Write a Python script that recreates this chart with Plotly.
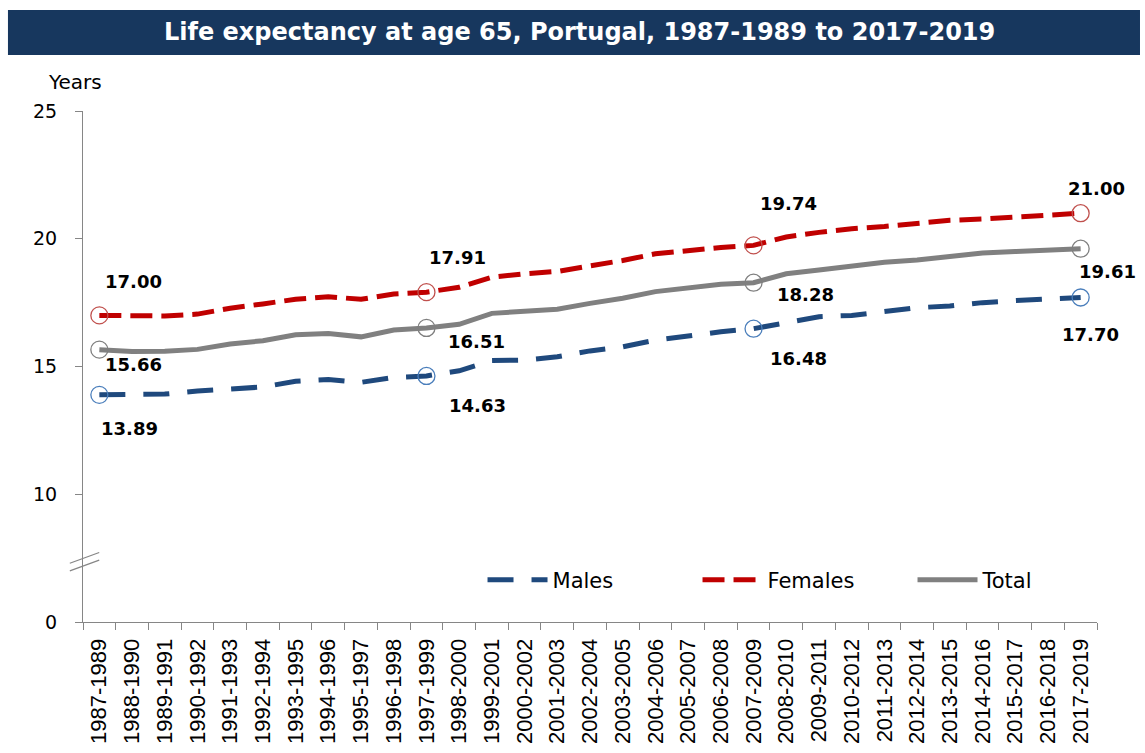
import plotly.graph_objects as go

periods = ["1987-1989","1988-1990","1989-1991","1990-1992","1991-1993","1992-1994","1993-1995",
           "1994-1996","1995-1997","1996-1998","1997-1999","1998-2000","1999-2001","2000-2002",
           "2001-2003","2002-2004","2003-2005","2004-2006","2005-2007","2006-2008","2007-2009",
           "2008-2010","2009-2011","2010-2012","2011-2013","2012-2014","2013-2015","2014-2016",
           "2015-2017","2016-2018","2017-2019"]

males = [13.89, 13.90, 13.92, 14.04, 14.12, 14.20, 14.42, 14.49, 14.38, 14.57, 14.63,
         14.83, 15.23, 15.25, 15.38, 15.61, 15.77, 16.03, 16.19, 16.36, 16.48,
         16.71, 16.95, 17.00, 17.17, 17.30, 17.37, 17.50, 17.58, 17.64, 17.70]
females = [17.00, 16.98, 16.98, 17.05, 17.28, 17.45, 17.63, 17.73, 17.63, 17.84, 17.91,
           18.10, 18.49, 18.63, 18.72, 18.94, 19.15, 19.41, 19.54, 19.66, 19.74,
           20.07, 20.25, 20.39, 20.48, 20.62, 20.72, 20.77, 20.84, 20.92, 21.00]
total = [15.66, 15.59, 15.60, 15.67, 15.88, 16.01, 16.24, 16.29, 16.16, 16.43, 16.51,
         16.65, 17.08, 17.15, 17.24, 17.47, 17.67, 17.93, 18.06, 18.22, 18.28,
         18.63, 18.78, 18.94, 19.08, 19.17, 19.30, 19.44, 19.50, 19.55, 19.61]

highlight_idx = [0, 10, 20, 30]

# y axis: displayed "0" sits at a broken-axis position
y_tickvals = [5, 10, 15, 20, 25]
y_ticktext = ["0", "10", "15", "20", "25"]

title_text = "Life expectancy at age 65, Portugal, 1987-1989 to 2017-2019"

series = [
    dict(name="Males", y=males, color="#1F497D", dash="26px,18px", mcolor="#4A7EBB",
         offsets=[(30, -34), (51, -30), (45, -30), (10, -37)]),
    dict(name="Females", y=females, color="#C00000", dash="22px,9px", mcolor="#C0504D",
         offsets=[(34, 34), (31, 35), (35, 42), (16, 25)]),
    dict(name="Total", y=total, color="#808080", dash="solid", mcolor="#7F7F7F",
         offsets=[(34, -15), (50, -14), (52, -12), (27, -23)]),
]

fig = go.Figure()
for s in series:
    fig.add_trace(go.Scatter(x=periods, y=s["y"], mode="lines", name=s["name"],
                             line=dict(color=s["color"], width=5, dash=s["dash"])))
for s in series:
    fig.add_trace(go.Scatter(x=[periods[i] for i in highlight_idx],
                             y=[s["y"][i] for i in highlight_idx],
                             mode="markers", showlegend=False, hoverinfo="skip",
                             marker=dict(symbol="circle-open", size=17, color=s["mcolor"],
                                         line=dict(color=s["mcolor"], width=1.3))))

annotations = []
for s in series:
    for k, i in enumerate(highlight_idx):
        dx, dy = s["offsets"][k]
        annotations.append(dict(x=periods[i], y=s["y"][i], xref="x", yref="y",
                                text=f"<b>{s['y'][i]:.2f}</b>", showarrow=False,
                                xshift=dx, yshift=dy,
                                font=dict(family="DejaVu Sans", size=18, color="black")))
annotations.append(dict(x=0.49, y=1.1546, xref="paper", yref="paper", text=f"<b>{title_text}</b>",
                        showarrow=False, font=dict(family="DejaVu Sans", size=24, color="white"),
                        xanchor="center", yanchor="middle"))
annotations.append(dict(x=-0.008, y=1.057, xref="paper", yref="paper", text="Years",
                        showarrow=False, font=dict(family="DejaVu Sans", size=20, color="black"),
                        xanchor="center", yanchor="middle"))

shapes = [
    dict(type="rect", xref="paper", yref="paper", x0=-0.074, x1=1.0424, y0=1.1096, y1=1.1977,
         fillcolor="#17375E", line=dict(width=0), layer="below"),
    dict(type="line", xref="paper", yref="y", x0=-0.013, x1=0.016, y0=7.30, y1=7.72,
         line=dict(color="#868686", width=1.2)),
    dict(type="line", xref="paper", yref="y", x0=-0.013, x1=0.016, y0=7.00, y1=7.42,
         line=dict(color="#868686", width=1.2)),
]

fig.update_layout(
    width=1145, height=753,
    margin=dict(l=83, r=48, t=111, b=131),
    paper_bgcolor="white", plot_bgcolor="white",
    showlegend=True,
    legend=dict(orientation="h", x=0.394, y=0.082, xanchor="left", yanchor="middle",
                font=dict(family="DejaVu Sans", size=21, color="black"),
                itemwidth=60, entrywidth=140, bgcolor="rgba(0,0,0,0)"),
    annotations=annotations,
    shapes=shapes,
    xaxis=dict(type="category", range=[-0.5, 30.5], tickangle=-90, ticks="outside",
               tickson="boundaries", ticklen=7, tickcolor="#868686", showline=True,
               linecolor="#868686", linewidth=1, showgrid=False, automargin=False,
               ticklabelstandoff=7,
               tickfont=dict(family="Liberation Sans", size=22, color="black")),
    yaxis=dict(range=[5, 25], tickvals=y_tickvals, ticktext=y_ticktext, ticks="outside",
               ticklen=7, tickcolor="#868686", showline=True, linecolor="#868686",
               linewidth=1, showgrid=False, zeroline=False, automargin=False,
               ticklabelstandoff=14,
               tickfont=dict(family="DejaVu Sans", size=19, color="black")),
)

fig.write_html("out.html", config={"displayModeBar": False},
               post_script="document.body.style.margin='0px';")
